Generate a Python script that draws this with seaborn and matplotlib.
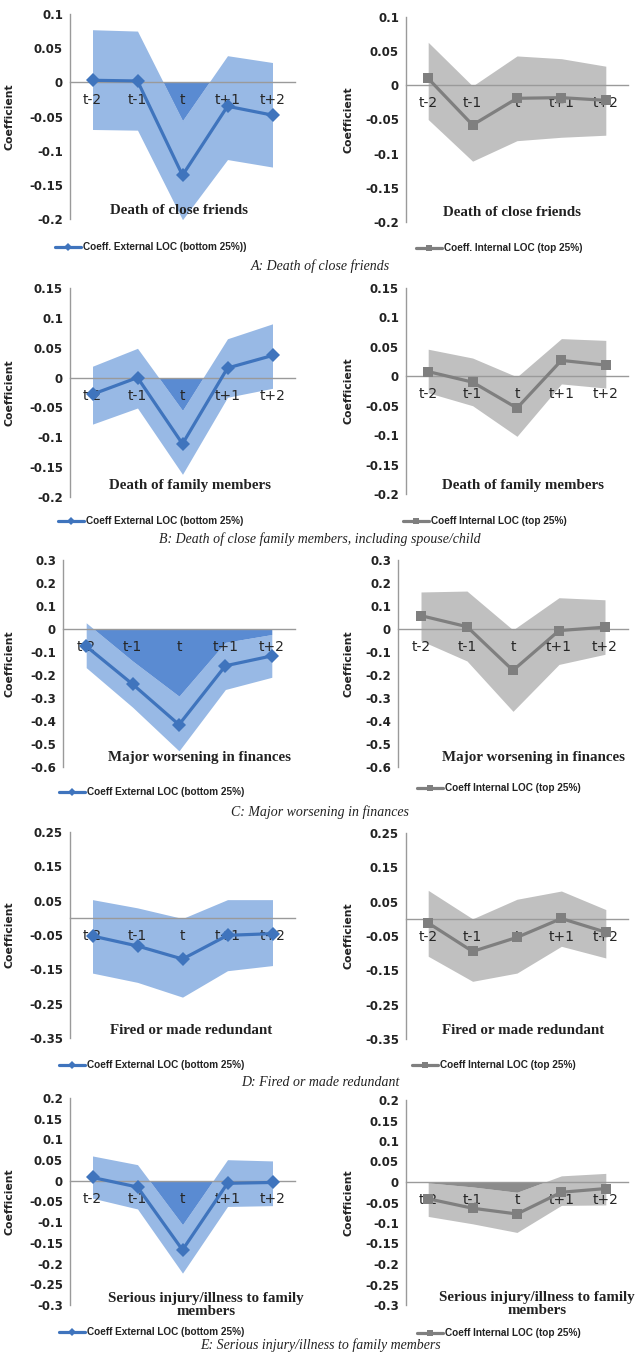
import matplotlib
matplotlib.use('Agg')
import matplotlib.pyplot as plt
from matplotlib import font_manager
import seaborn as sns
import numpy as np
import pandas as pd

# ---- data ----
periods = ['t-2', 't-1', 't', 't+1', 't+2']

event_titles = ['Death of close friends',
                'Death of family members',
                'Major worsening in finances',
                'Fired or made redundant',
                'Serious injury/illness to family\nmembers']

captions = ['A: Death of close friends',
            'B: Death of close family members, including spouse/child',
            'C: Major worsening in finances',
            'D: Fired or made redundant',
            'E: Serious injury/illness to family members']

ext_labels = ['Coeff. External LOC (bottom 25%))'] + ['Coeff External LOC (bottom 25%)'] * 4
int_labels = ['Coeff. Internal LOC (top 25%)'] + ['Coeff Internal LOC (top 25%)'] * 4

# external LOC (bottom 25%): coefficient, upper and lower bound per event
ext_coef = [[0.003, 0.002, -0.136, -0.035, -0.048],
            [-0.028, 0.000, -0.111, 0.016, 0.037],
            [-0.075, -0.240, -0.416, -0.160, -0.117],
            [-0.053, -0.082, -0.120, -0.051, -0.046],
            [0.008, -0.015, -0.167, -0.006, -0.004]]
ext_upper = [[0.077, 0.075, -0.056, 0.039, 0.029],
             [0.019, 0.049, -0.055, 0.065, 0.090],
             [0.027, -0.139, -0.292, -0.058, -0.024],
             [0.053, 0.029, -0.002, 0.053, 0.053],
             [0.060, 0.039, -0.106, 0.051, 0.048]]
ext_lower = [[-0.069, -0.070, -0.201, -0.113, -0.124],
             [-0.078, -0.051, -0.162, -0.033, -0.018],
             [-0.168, -0.340, -0.530, -0.263, -0.210],
             [-0.161, -0.188, -0.231, -0.154, -0.139],
             [-0.042, -0.068, -0.223, -0.062, -0.060]]

# internal LOC (top 25%)
int_coef = [[0.010, -0.058, -0.019, -0.018, -0.022],
            [0.008, -0.010, -0.054, 0.027, 0.019],
            [0.058, 0.010, -0.180, -0.007, 0.008],
            [-0.012, -0.095, -0.054, 0.001, -0.039],
            [-0.041, -0.064, -0.078, -0.025, -0.016]]
int_upper = [[0.063, -0.001, 0.043, 0.039, 0.028],
             [0.046, 0.031, -0.001, 0.064, 0.061],
             [0.161, 0.165, -0.004, 0.136, 0.127],
             [0.083, 0.000, 0.057, 0.081, 0.027],
             [-0.002, -0.012, -0.025, 0.015, 0.021]]
int_lower = [[-0.050, -0.111, -0.081, -0.076, -0.073],
             [-0.028, -0.050, -0.102, -0.013, -0.020],
             [-0.051, -0.139, -0.358, -0.154, -0.110],
             [-0.109, -0.182, -0.158, -0.080, -0.114],
             [-0.084, -0.102, -0.123, -0.057, -0.056]]

# y axis range per row: (min, max, step)
y_ranges = [(-0.2, 0.1, 0.05), (-0.2, 0.15, 0.05), (-0.6, 0.3, 0.1),
            (-0.35, 0.25, 0.1), (-0.3, 0.2, 0.05)]

# ---- layout in pixels ----
W, H = 642, 1355
# axes boxes (left, top, right, bottom) for [external, internal]
boxes = [[(70, 14, 295, 219), (406, 17, 628, 222)],
         [(70, 288, 295, 497), (406, 288, 628, 494)],
         [(63, 560, 295, 767), (398, 560, 628, 767)],
         [(70, 832, 295, 1038), (406, 833, 628, 1039)],
         [(70, 1098, 295, 1305), (406, 1100, 628, 1305)]]
title_pos = [[(179, 211), (512, 213)],
             [(190, 486), (523, 485)],
             [(200, 757), (534, 757)],
             [(191, 1030), (523, 1030)],
             [(206, 1305), (537, 1304)]]
legend_pos = [[(151, 247), (499, 248)],
              [(151, 521), (485, 521)],
              [(152, 792), (499, 788)],
              [(152, 1065), (494, 1065)],
              [(152, 1332), (499, 1333)]]
caption_y = [266, 539, 812, 1083, 1345]
ylabel_x = [15, 353]

styles = {
    'ext': dict(band='#98b9e5', dark='#5a8bd2', line='#3f74bd', marker='D', ms=7),
    'int': dict(band='#c0c0c0', dark='#8c8c8c', line='#7f7f7f', marker='s', ms=7),
}
axis_gray = '#9a9a9a'

sns.set_style('white')
plt.rcParams['font.family'] = ['DejaVu Sans']

names = {f.name for f in font_manager.fontManager.ttflist}
if 'Liberation Sans Narrow' in names:
    leg_font, leg_size = 'Liberation Sans Narrow', 8.3
else:
    leg_font, leg_size = 'Liberation Sans', 7.2

fig = plt.figure(figsize=(W / 100, H / 100), dpi=100)


def fig_rect(l, t, r, b):
    return [l / W, 1 - b / H, (r - l) / W, (b - t) / H]


x = np.arange(len(periods))

for row in range(5):
    series = [('ext', ext_coef[row], ext_upper[row], ext_lower[row], ext_labels[row]),
              ('int', int_coef[row], int_upper[row], int_lower[row], int_labels[row])]
    for col, (kind, coef, upper, lower, label) in enumerate(series):
        st = styles[kind]
        l, t, r, b = boxes[row][col]
        ax = fig.add_axes(fig_rect(l, t, r, b))
        ax.set_axisbelow(False)  # tick labels sit on top of the bands

        upper = np.array(upper)
        ax.fill_between(x, lower, upper, color=st['band'], lw=0, zorder=1)
        # the darker part where the upper bound falls below zero
        ax.fill_between(x, 0, upper, where=upper < 0, interpolate=True,
                        color=st['dark'], lw=0, zorder=1.5)

        df = pd.DataFrame({'period': x, 'coef': coef})
        sns.lineplot(data=df, x='period', y='coef', ax=ax, color=st['line'],
                     linewidth=2.3, marker=st['marker'], markersize=st['ms'],
                     markeredgewidth=0, label=label, zorder=3)

        ymin, ymax, step = y_ranges[row]
        ticks = np.arange(ymin, ymax + step / 2, step)
        ax.set_ylim(ymin, ymax)
        ax.set_yticks(ticks)
        ax.set_yticklabels([f'{round(v, 2) + 0:g}' for v in ticks],
                           fontsize=8.5, fontweight='bold', color='#222222')
        ax.set_xlim(-0.5, 4.5)
        ax.set_xticks(x)
        ax.set_xticklabels(periods, fontfamily='DejaVu Serif', fontsize=8.5,
                           color='#222222')
        ax.set_xticks(x[:-1] + 0.5, minor=True)
        ax.tick_params(axis='x', which='major', length=0, pad=8)
        ax.tick_params(axis='x', which='minor', length=3, width=0.8,
                       color=axis_gray, direction='out')
        ax.tick_params(axis='y', length=3, width=0.8, color=axis_gray,
                       direction='out', pad=2)
        ax.set_xlabel('')

        ax.spines['bottom'].set_position(('data', 0))
        for side in ['top', 'right']:
            ax.spines[side].set_visible(False)
        for side in ['bottom', 'left']:
            ax.spines[side].set_color(axis_gray)
            ax.spines[side].set_linewidth(1.0)
        ax.spines['bottom'].set_zorder(2)

        ax.set_ylabel('Coefficient', fontsize=7.8, fontweight='bold',
                      color='#222222')
        ax.yaxis.set_label_coords((ylabel_x[col] - l) / (r - l), 0.5)

        tx, ty = title_pos[row][col]
        fig.text(tx / W, 1 - ty / H, event_titles[row], ha='center',
                 va='center', fontfamily='Liberation Serif', fontweight='bold',
                 fontsize=10.8, linespacing=1.0, color='#222222')

        lx, ly = legend_pos[row][col]
        ax.legend(loc='center', bbox_to_anchor=(lx / W, 1 - ly / H),
                  bbox_transform=fig.transFigure, frameon=False,
                  prop=dict(family=leg_font, weight='bold', size=leg_size),
                  handlelength=2.6, handletextpad=0.2, borderaxespad=0,
                  borderpad=0, labelcolor='#222222', markerscale=0.6)

    fig.text(320 / W, 1 - caption_y[row] / H, captions[row], ha='center',
             va='center', fontfamily='Liberation Serif', fontstyle='italic',
             fontsize=10, color='#222222')

fig.savefig('out.png', dpi=100)
